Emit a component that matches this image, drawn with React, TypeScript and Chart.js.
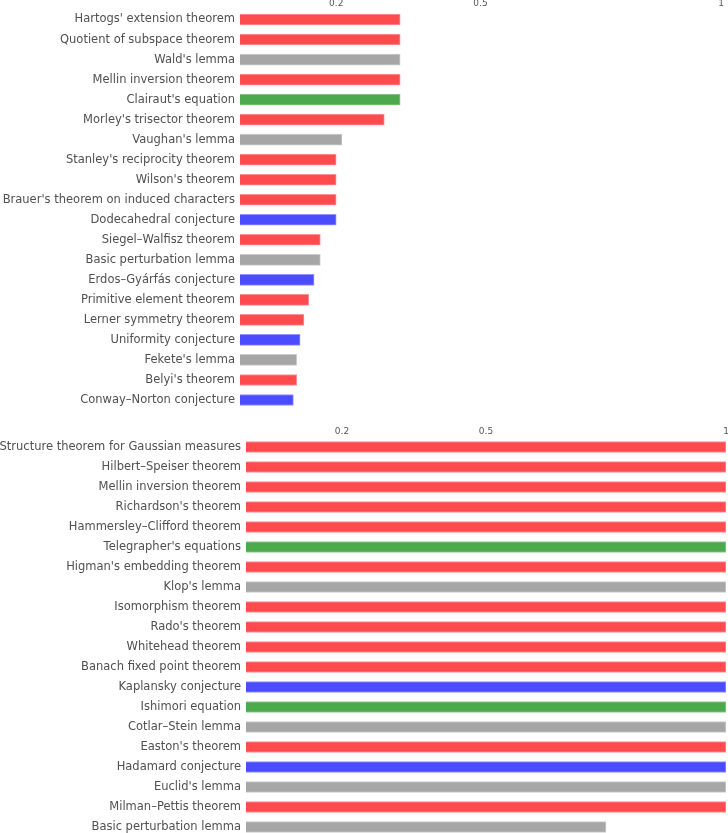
import React, { useEffect, useRef } from "react";
import { Chart, registerables } from "chart.js";

Chart.register(...registerables);

const topLabels = [
  "Hartogs' extension theorem",
  "Quotient of subspace theorem",
  "Wald's lemma",
  "Mellin inversion theorem",
  "Clairaut's equation",
  "Morley's trisector theorem",
  "Vaughan's lemma",
  "Stanley's reciprocity theorem",
  "Wilson's theorem",
  "Brauer's theorem on induced characters",
  "Dodecahedral conjecture",
  "Siegel–Walfisz theorem",
  "Basic perturbation lemma",
  "Erdos–Gyárfás conjecture",
  "Primitive element theorem",
  "Lerner symmetry theorem",
  "Uniformity conjecture",
  "Fekete's lemma",
  "Belyi's theorem",
  "Conway–Norton conjecture",
];
const topValues = [
  0.333, 0.333, 0.333, 0.333, 0.333, 0.3, 0.212, 0.2, 0.2, 0.2, 0.2, 0.167,
  0.167, 0.154, 0.143, 0.133, 0.125, 0.118, 0.118, 0.111,
];
const topKinds = [
  "theorem", "theorem", "lemma", "theorem", "equation", "theorem", "lemma",
  "theorem", "theorem", "theorem", "conjecture", "theorem", "lemma",
  "conjecture", "theorem", "theorem", "conjecture", "lemma", "theorem",
  "conjecture",
];

const bottomLabels = [
  "Structure theorem for Gaussian measures",
  "Hilbert–Speiser theorem",
  "Mellin inversion theorem",
  "Richardson's theorem",
  "Hammersley–Clifford theorem",
  "Telegrapher's equations",
  "Higman's embedding theorem",
  "Klop's lemma",
  "Isomorphism theorem",
  "Rado's theorem",
  "Whitehead theorem",
  "Banach fixed point theorem",
  "Kaplansky conjecture",
  "Ishimori equation",
  "Cotlar–Stein lemma",
  "Easton's theorem",
  "Hadamard conjecture",
  "Euclid's lemma",
  "Milman–Pettis theorem",
  "Basic perturbation lemma",
];
const bottomValues = [
  1, 1, 1, 1, 1, 1, 1, 1, 1, 1, 1, 1, 1, 1, 1, 1, 1, 1, 1, 0.75,
];
const bottomKinds = [
  "theorem", "theorem", "theorem", "theorem", "theorem", "equation",
  "theorem", "lemma", "theorem", "theorem", "theorem", "theorem",
  "conjecture", "equation", "lemma", "theorem", "conjecture", "lemma",
  "theorem", "lemma",
];

const xTickValues = [0.2, 0.5, 1];

const kindColors: Record<string, string> = {
  theorem: "#ff4b4e",
  lemma: "#a6a6a6",
  equation: "#4caa4c",
  conjecture: "#4b4bff",
};
const kindEdges: Record<string, string> = {
  theorem: "#ff9497",
  lemma: "#cccccc",
  equation: "#93cc93",
  conjecture: "#9494ff",
};

type PanelProps = {
  labels: string[];
  values: number[];
  kinds: string[];
  height: number;
  yWidth: number;
  xHeight: number;
  padTop: number;
  padRight: number;
  labelSize: number;
};

function Panel(p: PanelProps) {
  const ref = useRef<HTMLCanvasElement | null>(null);
  useEffect(() => {
    if (!ref.current) return;
    const chart = new Chart(ref.current, {
      type: "bar",
      data: {
        labels: p.labels,
        datasets: [
          {
            data: p.values,
            backgroundColor: p.kinds.map((k) => kindColors[k]),
            borderColor: p.kinds.map((k) => kindEdges[k]),
            borderWidth: 1,
            barThickness: 11,
          },
        ],
      },
      options: {
        indexAxis: "y",
        responsive: false,
        animation: false,
        devicePixelRatio: 1,
        layout: { padding: { top: p.padTop, right: p.padRight, bottom: 0, left: 0 } },
        plugins: { legend: { display: false }, tooltip: { enabled: false } },
        scales: {
          x: {
            type: "linear",
            position: "top",
            min: 0,
            max: 1,
            grid: { display: false, drawTicks: false },
            border: { display: false },
            afterBuildTicks: (scale: any) => {
              scale.ticks = xTickValues.map((v) => ({ value: v }));
            },
            afterFit: (scale: any) => {
              scale.height = p.xHeight;
              scale.paddingLeft = 0;
              scale.paddingRight = 0;
            },
            ticks: {
              padding: 0,
              color: "#555555",
              font: { family: "DejaVu Sans", size: 9 },
              maxRotation: 0,
              callback: (v: any) => String(v),
            },
          },
          y: {
            grid: { display: false, drawTicks: false },
            border: { display: false },
            afterFit: (scale: any) => {
              scale.width = p.yWidth;
              scale.paddingTop = 0;
              scale.paddingBottom = 0;
            },
            ticks: {
              padding: 5,
              color: "#505050",
              autoSkip: false,
              font: { family: "DejaVu Sans", size: p.labelSize },
            },
          },
        },
      },
    });
    return () => chart.destroy();
  }, []);
  return (
    <canvas
      ref={ref}
      width={728}
      height={p.height}
      style={{ display: "block", width: 728, height: p.height }}
    />
  );
}

export default function App() {
  useEffect(() => {
    document.body.style.margin = "0";
  }, []);
  return (
    <div style={{ position: "absolute", left: 0, top: 0, width: 728, background: "#fff" }}>
      <Panel
        labels={topLabels}
        values={topValues}
        kinds={topKinds}
        height={410}
        yWidth={240}
        xHeight={9.5}
        padTop={0}
        padRight={7}
        labelSize={11.5}
      />
      <Panel
        labels={bottomLabels}
        values={bottomValues}
        kinds={bottomKinds}
        height={427}
        yWidth={246}
        xHeight={11}
        padTop={16}
        padRight={2}
        labelSize={11.5}
      />
    </div>
  );
}
